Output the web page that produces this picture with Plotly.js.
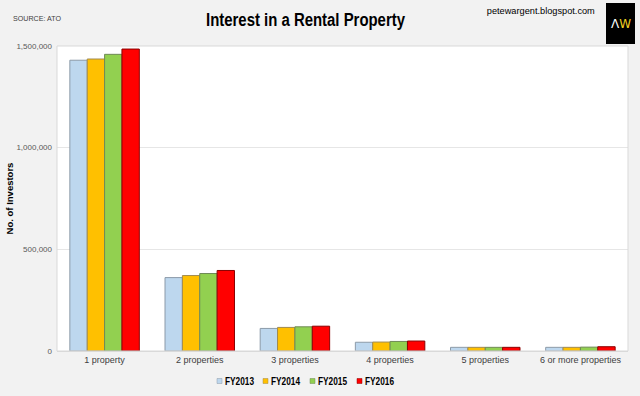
<!DOCTYPE html>
<html><head><meta charset="utf-8">
<script src="https://cdn.plot.ly/plotly-3.0.1.min.js"></script>
<style>html,body{margin:0;padding:0;background:#f2f2f2;}#chart{width:640px;height:396px;}</style>
</head><body><div id="chart"></div>
<script>
const categories = ["1 property","2 properties","3 properties","4 properties","5 properties","6 or more properties"];
const seriesNames = ["FY2013","FY2014","FY2015","FY2016"];
const fy2013 = [1430000, 361000, 111000, 43000, 18000, 18000];
const fy2014 = [1436000, 371000, 116000, 44000, 18000, 18000];
const fy2015 = [1459000, 381000, 119000, 47000, 18000, 19000];
const fy2016 = [1485000, 396000, 122000, 49000, 18000, 21000];
const colors = ["#bdd7ee","#ffc000","#92d050","#ff0000"];
const outlines = ["#8c9aa8","#a08a50","#6f8a55","#8b0000"];
const allSeries = [fy2013, fy2014, fy2015, fy2016];
const yTicks = [0, 500000, 1000000, 1500000];
const yTickText = ["0","500,000","1,000,000","1,500,000"];

const W = 640, H = 396, L = 57, R = 12, T = 46, B = 45;
const pw = W - L - R, ph = H - T - B;
const px = x => (x - L) / pw;
const py = y => (H - B - y) / ph;

const traces = allSeries.map((vals, i) => ({
  type: "bar", name: seriesNames[i], x: categories, y: vals, showlegend: false,
  marker: {color: colors[i], line: {color: outlines[i], width: 1}},
  hoverinfo: "x+y+name"
}));

const shapes = [
  {type: "rect", xref: "paper", yref: "paper", x0: 0, x1: 1, y0: 0, y1: 1, line: {color: "#d9d9d9", width: 1}},
  {type: "rect", xref: "paper", yref: "paper", x0: px(606), x1: px(635), y0: py(3), y1: py(44),
   fillcolor: "#000000", line: {width: 0}, layer: "above"}
];
const annotations = [
  {text: "SOURCE: ATO", xref: "paper", yref: "paper", x: px(8), y: py(18), xanchor: "left", yanchor: "middle",
   showarrow: false, font: {size: 8, color: "#404040"}},
  {text: "petewargent.blogspot.com", xref: "paper", yref: "paper", x: px(541), y: py(11), xanchor: "center", yanchor: "middle",
   showarrow: false, font: {size: 9, color: "#000000"}},
  {text: "<span style='color:#ffffff'>Λ</span><span style='color:#f0d020'>W</span>", xref: "paper", yref: "paper",
   x: px(620.5), y: py(24), xanchor: "center", yanchor: "middle", showarrow: false,
   font: {size: 12, family: "DejaVu Sans, sans-serif"}}
];
// custom compact legend
const legX = [217, 263, 310, 357], legY = 381;
seriesNames.forEach((n, i) => {
  shapes.push({type: "rect", xref: "paper", yref: "paper", x0: px(legX[i]), x1: px(legX[i] + 5),
    y0: py(legY + 2.5), y1: py(legY - 2.5), fillcolor: colors[i], line: {color: outlines[i], width: 0.5}});
  annotations.push({text: "<b>" + n + "</b>", xref: "paper", yref: "paper", x: px(legX[i] + 22.5), y: py(legY),
    xanchor: "center", yanchor: "middle", showarrow: false, font: {size: 10, color: "#000000"}});
});

const layout = {
  width: W, height: H,
  paper_bgcolor: "#f2f2f2", plot_bgcolor: "#ffffff",
  margin: {l: L, r: R, t: T, b: B},
  barmode: "group", bargap: 0.27, bargroupgap: 0,
  showlegend: false,
  font: {family: "Liberation Sans, Arial, sans-serif", color: "#404040", size: 8},
  title: {text: "<b>Interest in a Rental Property</b>", x: px(305.5), xref: "paper", xanchor: "center", y: 0.95, yanchor: "middle",
          font: {family: "Liberation Sans, Arial, sans-serif", size: 18, color: "#000000"}},
  xaxis: {type: "category", tickfont: {size: 9, color: "#404040"}, showline: true, linecolor: "#d9d9d9",
          ticks: "", showgrid: false, fixedrange: true},
  yaxis: {range: [0, 1500000], tickvals: yTicks, ticktext: yTickText, tickfont: {size: 8, color: "#595959"},
          showgrid: true, gridcolor: "#e6e6e6", gridwidth: 1, zeroline: false, showline: false, ticks: "",
          ticklabelstandoff: 4,
          title: {text: "<b>No. of Investors</b>", font: {size: 9.5, color: "#000000"}, standoff: 1}},
  shapes: shapes,
  annotations: annotations
};
Plotly.newPlot("chart", traces, layout, {displayModeBar: false, staticPlot: true}).then(gd => {
  const fit = (el, len) => { el.setAttribute("textLength", String(len)); el.setAttribute("lengthAdjust", "spacingAndGlyphs"); };
  const t = gd.querySelector(".gtitle");
  if (t) fit(t, 199);
  gd.querySelectorAll(".annotation-text").forEach(a => {
    const s = a.textContent;
    if (/^FY/.test(s)) fit(a, 29);
    if (s === "petewargent.blogspot.com") fit(a, 108);
    if (s === "SOURCE: ATO") fit(a, 48);
  });
});
</script></body></html>
